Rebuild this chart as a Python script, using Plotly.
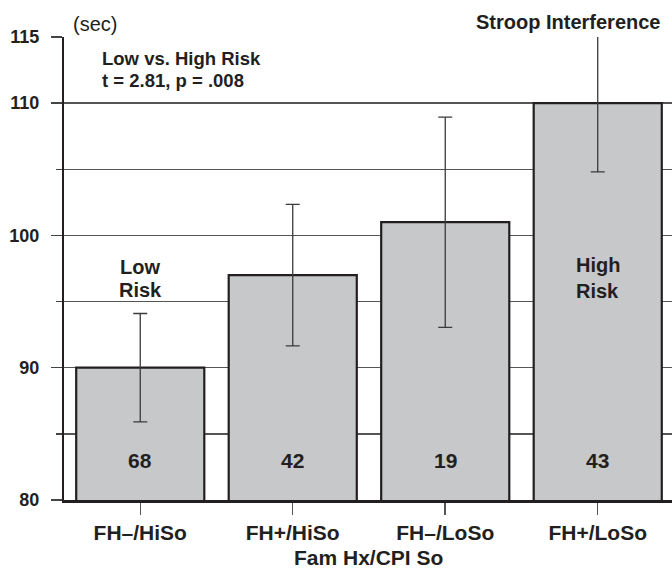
import plotly.graph_objects as go

categories = ["FH–/HiSo", "FH+/HiSo", "FH–/LoSo", "FH+/LoSo"]
means = [90, 97, 101, 110]
errors = [4.1, 5.35, 7.95, 5.2]
counts = ["68", "42", "19", "43"]
y_ticks = [80, 90, 100, 110, 115]
y_minor = [85, 95, 105]

FONT = "Liberation Sans, Arial, Helvetica, sans-serif"
TXT = "#231f20"

# plot area in page pixels (used only to place free text in paper coordinates)
PX_L, PX_R, PX_T, PX_B = 64, 672, 37, 500
def px(x):
    return (x - PX_L) / (PX_R - PX_L)
def py(y):
    return (PX_B - y) / (PX_B - PX_T)

fig = go.Figure()
fig.add_trace(go.Bar(
    x=list(range(len(categories))), y=means,
    marker=dict(color="#c7c8ca", line=dict(color="#231f20", width=2.2)),
    error_y=dict(type="data", array=errors, visible=True, color="#3a3a3a",
                 thickness=1.3, width=7),
    width=0.84, showlegend=False, hoverinfo="skip",
))

# counts inside bars
for i, c in enumerate(counts):
    fig.add_annotation(x=i, y=82.95, text=f"<b>{c}</b>", showarrow=False,
                       font=dict(size=21, color=TXT, family=FONT))

for txt, yv in (("Low", 97.58), ("Risk", 95.91)):
    fig.add_annotation(x=0, y=yv, text=f"<b>{txt}</b>", showarrow=False,
                       font=dict(size=20, color=TXT, family=FONT))
for txt, yv in (("High", 97.8), ("Risk", 95.83)):
    fig.add_annotation(x=3, y=yv, text=f"<b>{txt}</b>", showarrow=False,
                       font=dict(size=20, color=TXT, family=FONT))

fig.add_annotation(x=-0.263, y=113.41, text="<b>Low vs. High Risk</b>", showarrow=False,
                   xanchor="left", font=dict(size=18.5, color=TXT, family=FONT))
fig.add_annotation(x=-0.263, y=111.74, text="<b>t = 2.81, p = .008</b>", showarrow=False,
                   xanchor="left", font=dict(size=18.5, color=TXT, family=FONT))

fig.add_annotation(xref="paper", yref="paper", x=px(95), y=py(24),
                   text="(sec)", showarrow=False, xanchor="center", yanchor="middle",
                   font=dict(size=20, color=TXT, family=FONT))
fig.add_annotation(xref="paper", yref="paper", x=px(662), y=py(21.5),
                   text="<b>Stroop Interference</b>", showarrow=False, xanchor="right",
                   yanchor="middle", font=dict(size=20, color=TXT, family=FONT))
fig.add_annotation(xref="paper", yref="paper", x=px(368), y=py(557.5),
                   text="<b>Fam Hx/CPI So</b>", showarrow=False, xanchor="center",
                   yanchor="middle", font=dict(size=21, color=TXT, family=FONT))

fig.update_layout(
    width=672, height=569,
    margin=dict(l=64, r=0, t=37, b=69),
    plot_bgcolor="white", paper_bgcolor="white",
    font=dict(family=FONT, color=TXT, size=18),
    bargap=0.16,
)
fig.update_xaxes(
    range=[-0.5, 3.487],
    tickvals=list(range(len(categories))), ticktext=[f"<b>{c}</b>" for c in categories],
    tickfont=dict(size=21, color=TXT, family=FONT),
    ticks="outside", ticklen=12, tickcolor="#555", tickwidth=1.5,
    showline=True, linecolor="#231f20", linewidth=2.5, showgrid=False, zeroline=False,
)
fig.update_yaxes(
    range=[80, 115],
    tickvals=y_ticks, ticktext=[f"<b>{v}</b>" for v in y_ticks],
    tickfont=dict(size=18, color=TXT, family=FONT),
    ticks="outside", ticklen=11, tickcolor="#444", tickwidth=1.5, ticklabelstandoff=8,
    showgrid=True, gridcolor="#555", gridwidth=1.5,
    minor=dict(tickvals=y_minor, ticks="outside", ticklen=6, tickcolor="#444",
               tickwidth=1.5, showgrid=True, gridcolor="#555", gridwidth=1.5),
    showline=True, linecolor="#231f20", linewidth=2, zeroline=False,
)

fig.write_html(
    "out.html",
    config={"displayModeBar": False, "staticPlot": True},
    post_script="document.body.style.margin='0px';document.body.style.overflow='hidden';",
)
